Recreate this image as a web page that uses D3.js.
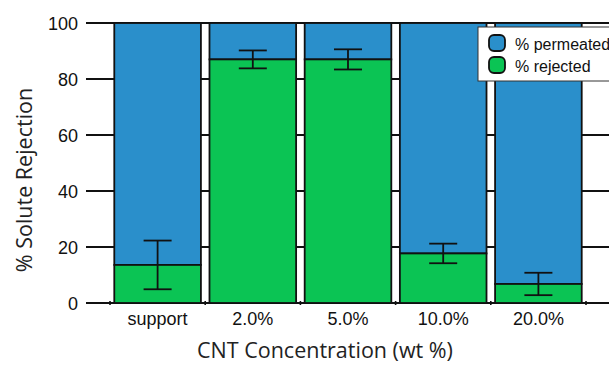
<!DOCTYPE html>
<html><head><meta charset="utf-8">
<script src="https://cdn.jsdelivr.net/npm/d3@7"></script>
<style>body{margin:0;background:#fff}svg{display:block}</style>
</head><body>
<svg id="c" width="609" height="365"></svg>
<script>
const categories = ["support", "2.0%", "5.0%", "10.0%", "20.0%"];
const rejected = [13.6, 87.0, 87.0, 17.7, 6.8];
const errors = [8.7, 3.2, 3.6, 3.5, 4.0];
const yTicks = [0, 20, 40, 60, 80, 100];
const seriesNames = ["% permeated", "% rejected"];

const blue = "#2a8fcb", green = "#0bc454";
const svg = d3.select("#c");
const x = d3.scaleBand().domain(categories).range([110, 586]).paddingInner(0.09).paddingOuter(0.045);
const y = d3.scaleLinear().domain([0, 100]).range([303, 23]);

// gridlines
svg.append("g").selectAll("line").data(yTicks).join("line")
  .attr("x1", 86).attr("x2", 609).attr("y1", d => y(d)).attr("y2", d => y(d))
  .attr("stroke", "#111").attr("stroke-width", 1.8);
// small ticks at band boundaries on baseline
const bounds = categories.map(c => x(c) - x.step()*x.paddingInner()/2).concat([x(categories[4]) + x.bandwidth() + x.step()*x.paddingInner()/2]);
svg.append("g").selectAll("line").data(bounds).join("line")
  .attr("x1", d => d).attr("x2", d => d).attr("y1", y(0)-2).attr("y2", y(0)+2)
  .attr("stroke", "#111").attr("stroke-width", 1.6);

// y labels
svg.append("g").selectAll("text").data(yTicks).join("text")
  .attr("x", 78).attr("y", d => y(d) + 6.5).attr("text-anchor", "end")
  .attr("font-family", "Liberation Sans, Arial, sans-serif").attr("font-size", 18).attr("fill", "#111")
  .text(d => d);

const bars = svg.append("g");
categories.forEach((c, i) => {
  bars.append("rect").attr("x", x(c)).attr("width", x.bandwidth())
    .attr("y", y(100)).attr("height", y(rejected[i]) - y(100))
    .attr("fill", blue).attr("stroke", "#111").attr("stroke-width", 1.8);
  bars.append("rect").attr("x", x(c)).attr("width", x.bandwidth())
    .attr("y", y(rejected[i])).attr("height", y(0) - y(rejected[i]))
    .attr("fill", green).attr("stroke", "#111").attr("stroke-width", 1.8);
  const cx = x(c) + x.bandwidth()/2;
  const g = bars.append("g").attr("stroke", "#111").attr("stroke-width", 1.8);
  g.append("line").attr("x1", cx).attr("x2", cx).attr("y1", y(rejected[i]+errors[i])).attr("y2", y(rejected[i]-errors[i]));
  [rejected[i]+errors[i], rejected[i]-errors[i]].forEach(v => {
    g.append("line").attr("x1", cx-14).attr("x2", cx+14).attr("y1", y(v)).attr("y2", y(v));
  });
});

// x tick labels
svg.append("g").selectAll("text").data(categories).join("text")
  .attr("x", d => x(d) + x.bandwidth()/2).attr("y", 325).attr("text-anchor", "middle")
  .attr("font-family", "Liberation Sans, Arial, sans-serif").attr("font-size", 18).attr("fill", "#111")
  .text(d => d);

// axis titles
svg.append("text").attr("x", 325).attr("y", 358).attr("text-anchor", "middle")
  .attr("font-family", "Open Sans, Noto Sans, sans-serif").attr("font-size", 21.5).attr("fill", "#222")
  .text("CNT Concentration (wt %)");
svg.append("text").attr("transform", "translate(32,180) rotate(-90)").attr("text-anchor", "middle")
  .attr("font-family", "Open Sans, Noto Sans, sans-serif").attr("font-size", 21.5).attr("fill", "#222")
  .text("% Solute Rejection");

// legend
const lg = svg.append("g");
lg.append("rect").attr("x", 478).attr("y", 27).attr("width", 140).attr("height", 54)
  .attr("fill", "#fff").attr("stroke", "#333").attr("stroke-width", 1);
[blue, green].forEach((col, i) => {
  lg.append("rect").attr("x", 489).attr("y", 35 + i*22).attr("width", 16).attr("height", 16).attr("rx", 5)
    .attr("fill", col).attr("stroke", "#111").attr("stroke-width", 1.8);
  lg.append("text").attr("x", 515).attr("y", 49.5 + i*22)
    .attr("font-family", "Liberation Sans, Arial, sans-serif").attr("font-size", 16).attr("fill", "#111")
    .text(seriesNames[i]);
});
</script>
</body></html>
